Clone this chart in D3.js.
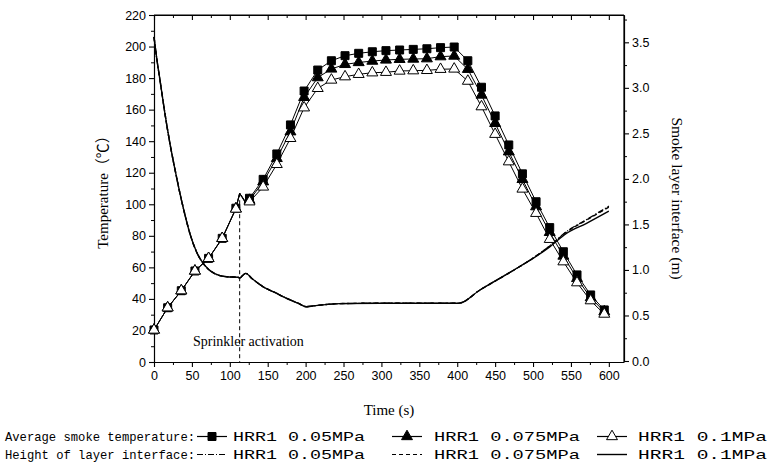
<!DOCTYPE html>
<html><head><meta charset="utf-8">
<script src="https://cdn.jsdelivr.net/npm/d3@7"></script>
<style>body{margin:0;background:#fff}svg{display:block}</style>
</head><body>
<script>
// ---- data ----
const tempTime = [0,18,36,54,72,90,108,113,121,126,144,162,180,198,216,234,252,270,288,306,324,342,360,378,396,414,432,450,468,486,504,522,540,558,576,594];
const temp005 = [20.3,34.4,45.2,57.7,65.7,78.4,97.5,107,101.5,103.8,115.8,131.9,150.3,171.8,185.1,191,194.2,195.7,196.7,197.4,197.8,198.2,198.6,199.3,199.7,191,174.2,156,137.6,119.3,101.6,85.2,69.9,55.2,42.5,33];
const temp0075 = [20.3,34.4,45.2,57.7,65.7,78.4,97.2,107,101,102.6,114.3,129.1,146,167.8,180.3,185.8,188.7,189.9,190.8,191.5,191.9,192.1,192.3,193.6,194,185.6,169.3,151.3,133.3,115.8,98.5,82.2,67.2,53,40.8,31.9];
const temp01 = [20.3,34.4,45.2,57.7,65.7,78.4,97,107,100.5,101.6,111,125.3,141.8,161.2,173.5,178.8,180.9,182.4,183.4,183.7,184.5,184.7,184.9,185.6,185.8,178.1,161.9,144.4,127,109.7,94.3,77.8,63.6,50.3,38.9,30.4];
const markerStep = 18;

const heightTime = [0,4,8,14,21,28,34,41,47,56,67,80,96,111,113,117,121,130,144,160,175,190,201,210,219,245,300,350,402,430,456,482,500,522,544,570,600];
const height005 = [3.56,3.30,3.08,2.74,2.39,2.09,1.85,1.60,1.41,1.20,1.05,0.96,0.925,0.92,0.91,0.94,0.962,0.90,0.815,0.75,0.688,0.635,0.596,0.605,0.614,0.630,0.635,0.635,0.635,0.78,0.907,1.035,1.13,1.265,1.42,1.55,1.70];
const height0075 = [3.56,3.30,3.08,2.74,2.39,2.09,1.85,1.60,1.41,1.20,1.05,0.96,0.925,0.92,0.91,0.94,0.962,0.90,0.815,0.75,0.688,0.635,0.596,0.605,0.614,0.630,0.635,0.635,0.635,0.78,0.907,1.035,1.13,1.262,1.415,1.545,1.69];
const height01 = [3.56,3.30,3.08,2.74,2.39,2.09,1.85,1.60,1.41,1.20,1.05,0.96,0.925,0.92,0.91,0.94,0.962,0.90,0.815,0.75,0.688,0.635,0.596,0.605,0.614,0.630,0.635,0.635,0.635,0.78,0.907,1.035,1.127,1.254,1.40,1.51,1.646];

const sprinklerTime = 113;
const sprinklerTop = 107;

const xTicks = [0,50,100,150,200,250,300,350,400,450,500,550,600];
const yLeftTicks = [0,20,40,60,80,100,120,140,160,180,200,220];
const yRightTicks = [0,0.5,1.0,1.5,2.0,2.5,3.0,3.5];

const legendTempLabel = "Average smoke temperature:";
const legendHeightLabel = "Height of layer interface:";
const seriesNames = ["HRR1 0.05MPa","HRR1 0.075MPa","HRR1 0.1MPa"];

// ---- layout ----
const W = 771, H = 465;
const L = 154, R = 624, T = 15, B = 362;
const svg = d3.select("body").append("svg").attr("width", W).attr("height", H);

const x = d3.scaleLinear().domain([0, 620]).range([L, R]);
const yL = d3.scaleLinear().domain([0, 220]).range([B, T]);
const yR = d3.scaleLinear().domain([0, 3.8]).range([B - 1, T]);

const tickFont = "'Liberation Sans', Arial, sans-serif";
const serif = "'Liberation Serif', 'Times New Roman', serif";

function styleAxis(g) {
  g.selectAll("path.domain").attr("stroke", "#000").attr("stroke-width", 1.2);
  g.selectAll(".tick line").attr("stroke", "#000").attr("stroke-width", 1.1);
  g.selectAll("text").attr("font-family", tickFont).attr("font-size", 12.5).attr("fill", "#000");
}

const xMinor = d3.range(25, 620, 50);
const yLMinor = d3.range(10, 220, 20);
const yRMinor = d3.range(0.25, 3.8, 0.5);

svg.append("g").attr("transform", `translate(0,${B})`)
  .call(d3.axisBottom(x).tickValues(xTicks).tickSize(5).tickSizeOuter(0).tickPadding(4))
  .call(styleAxis);
svg.append("g").attr("transform", `translate(0,${B})`)
  .call(d3.axisBottom(x).tickValues(xMinor).tickSize(3).tickFormat("").tickSizeOuter(0))
  .call(g => { g.select(".domain").remove(); g.selectAll("line").attr("stroke","#000"); });
svg.append("g").attr("transform", `translate(0,${T})`)
  .call(d3.axisBottom(x).tickValues(xTicks).tickSize(5).tickFormat("").tickSizeOuter(0))
  .call(styleAxis);
svg.append("g").attr("transform", `translate(0,${T})`)
  .call(d3.axisBottom(x).tickValues(xMinor).tickSize(3).tickFormat("").tickSizeOuter(0))
  .call(g => { g.select(".domain").remove(); g.selectAll("line").attr("stroke","#000"); });
svg.append("g").attr("transform", `translate(${L},0)`)
  .call(d3.axisLeft(yL).tickValues(yLeftTicks).tickSize(5).tickSizeOuter(0).tickPadding(3))
  .call(styleAxis);
svg.append("g").attr("transform", `translate(${L},0)`)
  .call(d3.axisLeft(yL).tickValues(yLMinor).tickSize(3).tickFormat("").tickSizeOuter(0))
  .call(g => { g.select(".domain").remove(); g.selectAll("line").attr("stroke","#000"); });
svg.append("g").attr("transform", `translate(${R},0)`)
  .call(d3.axisRight(yR).tickValues(yRightTicks).tickSize(5).tickSizeOuter(0).tickPadding(3).tickFormat(d3.format(".1f")))
  .call(styleAxis);
svg.append("g").attr("transform", `translate(${R},0)`)
  .call(d3.axisRight(yR).tickValues(yRMinor).tickSize(3).tickFormat("").tickSizeOuter(0))
  .call(g => { g.select(".domain").remove(); g.selectAll("line").attr("stroke","#000"); });
svg.append("line").attr("x1", L).attr("x2", R).attr("y1", T).attr("y2", T).attr("stroke", "#000").attr("stroke-width", 1.2);
svg.append("line").attr("x1", R).attr("x2", R).attr("y1", T).attr("y2", B).attr("stroke", "#000").attr("stroke-width", 1.2);

// ---- height lines ----
const hDash = ["6,2,1,2", "4,3", null];
[height005, height0075, height01].forEach((arr, i) => {
  const line = d3.line().x((d, j) => x(heightTime[j])).y(d => yR(d)).curve(d3.curveMonotoneX);
  svg.append("path").datum(arr).attr("d", line).attr("fill", "none")
    .attr("stroke", "#000").attr("stroke-width", 1.4)
    .attr("stroke-dasharray", hDash[i]);
});

// ---- sprinkler ----
svg.append("line").attr("x1", x(sprinklerTime)).attr("x2", x(sprinklerTime))
  .attr("y1", yL(sprinklerTop)).attr("y2", B)
  .attr("stroke", "#000").attr("stroke-width", 1).attr("stroke-dasharray", "4,3");
svg.append("text").attr("x", 193).attr("y", 346).text("Sprinkler activation")
  .attr("font-family", serif).attr("font-size", 14).attr("fill", "#000");

// ---- temperature lines ----
const tempSeries = [temp005, temp0075, temp01];
const tLine = d3.line().x((d, j) => x(tempTime[j])).y(d => yL(d));
tempSeries.forEach(arr => {
  svg.append("path").datum(arr).attr("d", tLine).attr("fill", "none")
    .attr("stroke", "#000").attr("stroke-width", 1);
});
const sqr = d3.symbol().type(d3.symbolSquare).size(64);
const tri = d3.symbol().type(d3.symbolTriangle).size(52);
function markers(arr, gen, fill) {
  svg.append("g").selectAll("path")
    .data(arr.map((v, j) => [tempTime[j], v]).filter(d => d[0] % markerStep === 0))
    .join("path")
    .attr("transform", d => `translate(${x(d[0])},${yL(d[1])})`)
    .attr("d", gen)
    .attr("fill", fill).attr("stroke", "#000").attr("stroke-width", 1);
}
markers(temp005, sqr, "#000");
markers(temp0075, tri, "#000");
markers(temp01, tri, "#fff");

// ---- axis titles ----
svg.append("text").attr("x", (L + R) / 2).attr("y", 415).attr("text-anchor", "middle")
  .attr("font-family", serif).attr("font-size", 15).text("Time (s)");
svg.append("text").attr("transform", `translate(108,${(T + B) / 2}) rotate(-90)`)
  .attr("text-anchor", "middle").attr("font-family", serif + ", 'Noto Sans CJK SC'").attr("font-size", 15)
  .text("Temperature（℃）");
svg.append("text").attr("transform", `translate(672,${(T + B) / 2 + 10}) rotate(90)`)
  .attr("text-anchor", "middle").attr("font-family", serif).attr("font-size", 15.5)
  .text("Smoke layer interface (m)");

// ---- legend ----
const legFont = "'Liberation Mono', 'DejaVu Sans Mono', monospace";
const rowsY = [441, 459];
const labelX = 5;
const symX = [197, 392, 597];
const symW = 30;
const textX = [233, 434, 638];
const textW = [132, 146, 129];
[legendTempLabel, legendHeightLabel].forEach((lab, r) => {
  svg.append("text").attr("x", labelX).attr("y", rowsY[r]).text(lab)
    .attr("font-family", legFont).attr("font-size", 13.5)
    .attr("textLength", 190).attr("lengthAdjust", "spacingAndGlyphs");
  seriesNames.forEach((nm, i) => {
    svg.append("text").attr("x", textX[i]).attr("y", rowsY[r]).text(nm)
      .attr("font-family", legFont).attr("font-size", 13.5)
      .attr("textLength", textW[i]).attr("lengthAdjust", "spacingAndGlyphs");
    const cy = rowsY[r] - 4.5;
    svg.append("line").attr("x1", symX[i]).attr("x2", symX[i] + symW).attr("y1", cy).attr("y2", cy)
      .attr("stroke", "#000").attr("stroke-width", r === 1 && i === 2 ? 1.4 : 1.2)
      .attr("stroke-dasharray", r === 1 ? hDash[i] : null);
    if (r === 0) {
      const gen = i === 0 ? sqr : tri;
      svg.append("path").attr("transform", `translate(${symX[i] + symW / 2},${cy})`)
        .attr("d", gen).attr("fill", i === 2 ? "#fff" : "#000").attr("stroke", "#000");
    }
  });
});
</script>
</body></html>
